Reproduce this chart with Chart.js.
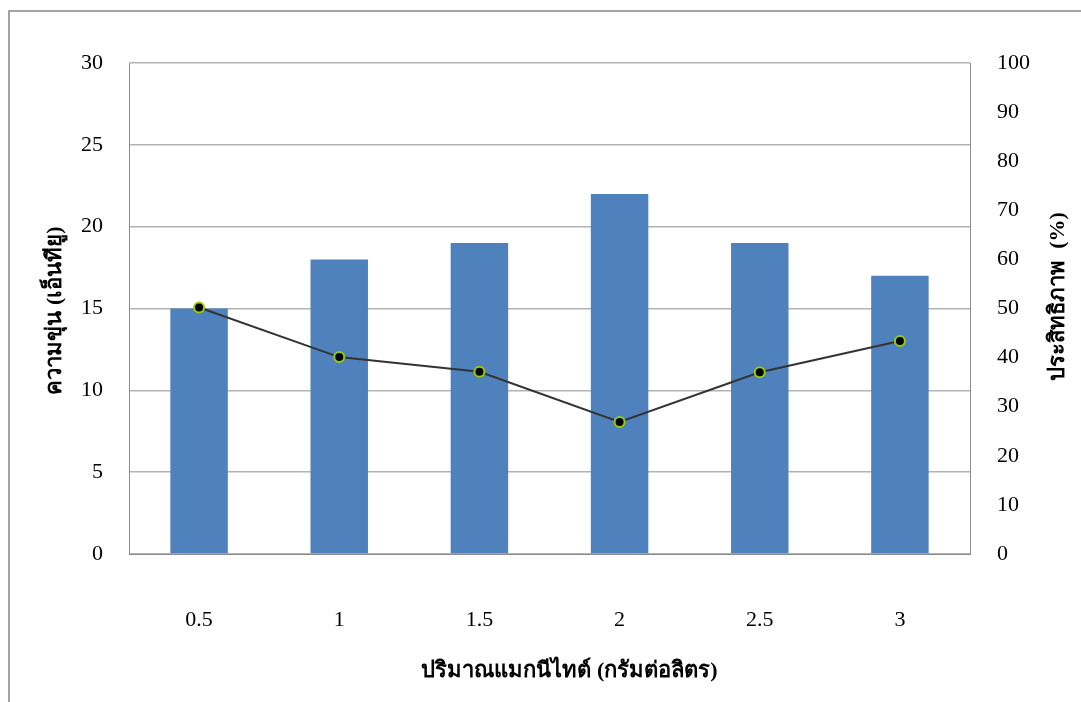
<!DOCTYPE html>
<html>
<head>
<meta charset="utf-8">
<script src="https://cdn.jsdelivr.net/npm/chart.js@4"></script>
<style>
  html, body { margin:0; padding:0; background:#fff; }
  #wrap { position:relative; width:1081px; height:702px; overflow:hidden; }
  #frame { position:absolute; left:8px; top:10px; width:1200px; height:800px; border:2px solid #a3a3a3; box-sizing:border-box; }
  canvas { position:absolute; left:0; top:0; }
</style>
</head>
<body>
<div id="wrap">
  <div id="frame"></div>
  <canvas id="c" width="1081" height="702"></canvas>
</div>
<script>
const categories = ['0.5', '1', '1.5', '2', '2.5', '3'];
const turbidity = [15, 18, 19, 22, 19, 17];
const efficiency = [50.2, 40.1, 37.1, 26.9, 37.0, 43.4];
const leftTitle = 'ความขุ่น (เอ็นทียู)';
const rightTitle = 'ประสิทธิภาพ  (%)';
const xTitle = 'ปริมาณแมกนีไทต์ (กรัมต่อลิตร)';

const FONT = "'Liberation Serif', 'Times New Roman', serif";

const titlePlugin = {
  id: 'titles',
  afterDraw(chart) {
    const ctx = chart.ctx;
    const a = chart.chartArea;
    ctx.save();
    ctx.fillStyle = '#000';
    ctx.font = 'bold 22px ' + FONT;
    ctx.textAlign = 'center';
    ctx.textBaseline = 'middle';
    // x title
    ctx.fillText(xTitle, (a.left + a.right) / 2 + 20, 671);
    // left title (reads bottom to top)
    ctx.save();
    ctx.translate(55, (a.top + a.bottom) / 2 + 2);
    ctx.rotate(-Math.PI / 2);
    ctx.fillText(leftTitle, 0, 0);
    ctx.restore();
    // right title (reads bottom to top)
    ctx.translate(1058, (a.top + a.bottom) / 2 - 12);
    ctx.rotate(-Math.PI / 2);
    ctx.fillText(rightTitle, 0, 0);
    ctx.restore();
  }
};

new Chart(document.getElementById('c'), {
  data: {
    labels: categories,
    datasets: [
      {
        type: 'line',
        data: efficiency,
        yAxisID: 'y2',
        borderColor: '#333333',
        borderWidth: 2,
        pointRadius: 5,
        pointBackgroundColor: '#000000',
        pointBorderColor: '#99cc00',
        pointBorderWidth: 2,
        tension: 0,
        order: 0
      },
      {
        type: 'bar',
        data: turbidity,
        yAxisID: 'y',
        backgroundColor: '#4f81bd',
        barPercentage: 0.41,
        categoryPercentage: 1.0,
        order: 1
      }
    ]
  },
  options: {
    responsive: false,
    animation: false,
    devicePixelRatio: 1,
    layout: { padding: { top: 63, left: 0, right: 0, bottom: 0 } },
    plugins: { legend: { display: false }, tooltip: { enabled: false } },
    scales: {
      x: {
        grid: { display: false },
        border: { display: true, color: '#8c8c8c', width: 1 },
        ticks: { color: '#000', font: { family: FONT, size: 22 }, padding: 45, maxRotation: 0 },
        afterFit(s) { s.height = 148; }
      },
      y: {
        position: 'left',
        min: 0, max: 30,
        ticks: { stepSize: 5, color: '#000', font: { family: FONT, size: 22 }, padding: 26 },
        grid: { color: '#b3b3b3', lineWidth: 1.5, drawTicks: false },
        border: { display: true, color: '#8c8c8c', width: 1 },
        afterFit(s) { s.width = 129; }
      },
      y2: {
        position: 'right',
        min: 0, max: 100,
        ticks: { stepSize: 10, color: '#000', font: { family: FONT, size: 22 }, padding: 27 },
        grid: { display: false, drawTicks: false },
        border: { display: true, color: '#8c8c8c', width: 1 },
        afterFit(s) { s.width = 111; }
      }
    }
  },
  plugins: [titlePlugin]
});
</script>
</body>
</html>
